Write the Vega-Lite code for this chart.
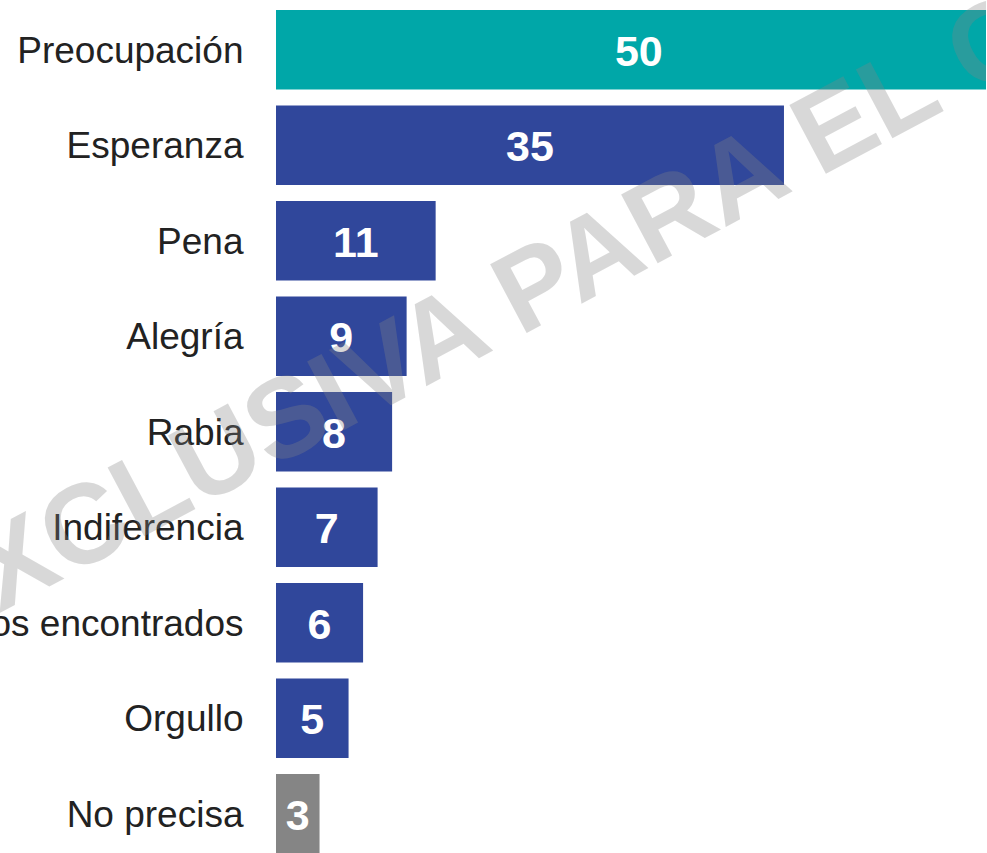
{
  "$schema": "https://vega.github.io/schema/vega-lite/v6.json",
  "width": 710,
  "height": 863.5,
  "autosize": {"type": "none"},
  "padding": {"left": 276, "top": 0, "right": 0, "bottom": 0},
  "background": "white",
  "config": {"view": {"stroke": null}, "font": "Liberation Sans"},
  "data": {
    "values": [
      {"emocion": "Preocupación", "valor": 50, "tipo": "destacado"},
      {"emocion": "Esperanza", "valor": 35, "tipo": "emocion"},
      {"emocion": "Pena", "valor": 11, "tipo": "emocion"},
      {"emocion": "Alegría", "valor": 9, "tipo": "emocion"},
      {"emocion": "Rabia", "valor": 8, "tipo": "emocion"},
      {"emocion": "Indiferencia", "valor": 7, "tipo": "emocion"},
      {"emocion": "Sentimientos encontrados", "valor": 6, "tipo": "emocion"},
      {"emocion": "Orgullo", "valor": 5, "tipo": "emocion"},
      {"emocion": "No precisa", "valor": 3, "tipo": "sin respuesta"}
    ]
  },
  "layer": [
    {
      "mark": {"type": "bar"},
      "encoding": {
        "y": {
          "field": "emocion",
          "type": "nominal",
          "sort": null,
          "scale": {
            "domain": ["Preocupación", "Esperanza", "Pena", "Alegría", "Rabia", "Indiferencia", "Sentimientos encontrados", "Orgullo", "No precisa"],
            "paddingInner": 0.1675,
            "paddingOuter": 0.1047
          },
          "axis": {
            "title": null,
            "domain": false,
            "ticks": false,
            "tickSize": 0,
            "labelPadding": 33,
            "labelFont": "Liberation Sans",
            "labelFontSize": 37,
            "labelColor": "#222222",
            "labelLimit": 600,
            "labelOffset": 2
          }
        },
        "x": {
          "field": "valor",
          "type": "quantitative",
          "scale": {"domain": [0, 48.92], "nice": false, "zero": true},
          "axis": null
        },
        "color": {
          "field": "tipo",
          "type": "nominal",
          "scale": {
            "domain": ["destacado", "emocion", "sin respuesta"],
            "range": ["#00A7A8", "#30479B", "#858585"]
          },
          "legend": null
        }
      }
    },
    {
      "transform": [{"calculate": "datum.valor / 2", "as": "centro"}],
      "mark": {
        "type": "text",
        "font": "Liberation Sans",
        "fontWeight": "bold",
        "fontSize": 43,
        "color": "white",
        "baseline": "middle",
        "dy": 3
      },
      "encoding": {
        "y": {"field": "emocion", "type": "nominal", "sort": null},
        "x": {"field": "centro", "type": "quantitative"},
        "text": {"field": "valor", "type": "quantitative"}
      }
    },
    {
      "data": {
        "values": [
          {"marca": "EXCLUSIVA PARA EL COMERCIO", "mx": -20.3, "my": "Sentimientos encontrados"}
        ]
      },
      "mark": {
        "type": "text",
        "font": "Liberation Sans",
        "fontWeight": "bold",
        "fontSize": 113,
        "angle": -28,
        "align": "left",
        "baseline": "alphabetic",
        "dx": -55.6,
        "color": "#858585",
        "opacity": 0.31
      },
      "encoding": {
        "x": {"field": "mx", "type": "quantitative"},
        "y": {"field": "my", "type": "nominal", "sort": null},
        "text": {"field": "marca", "type": "nominal"}
      }
    }
  ]
}
